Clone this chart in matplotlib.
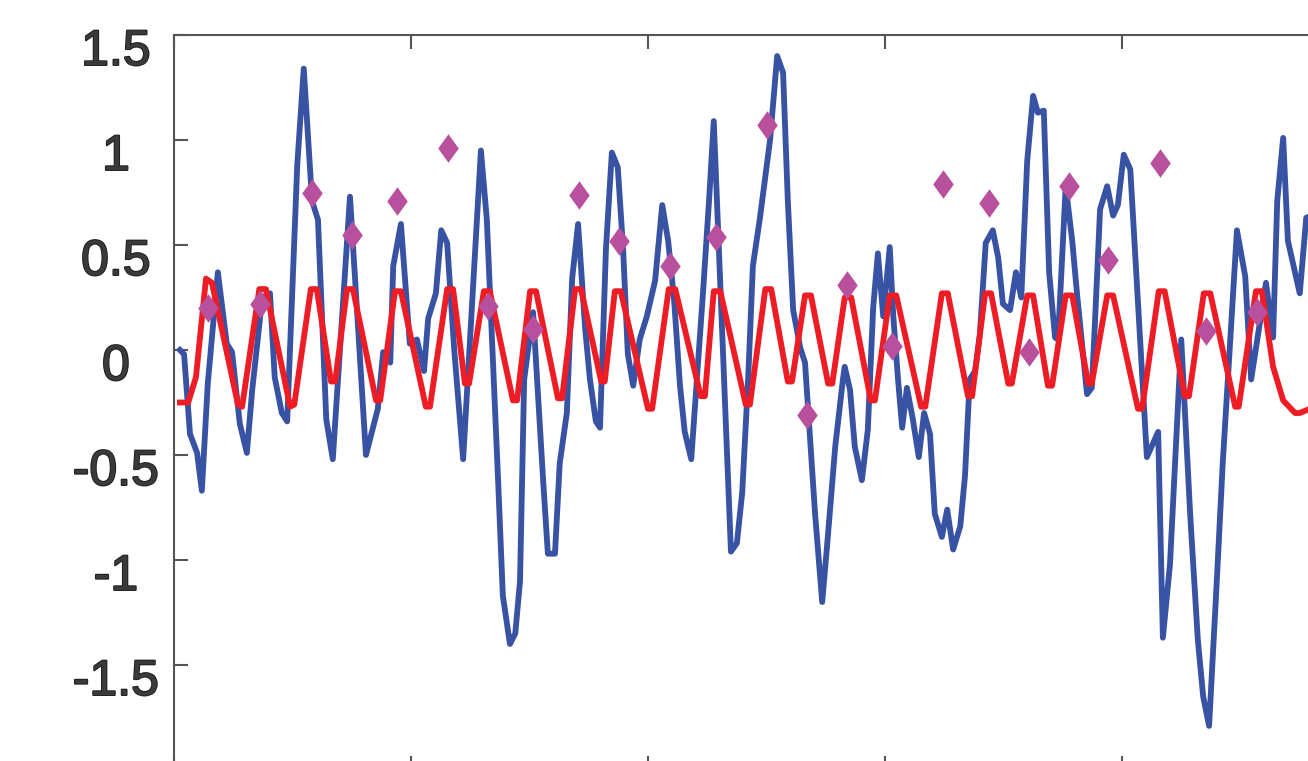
import matplotlib
matplotlib.use('Agg')
import matplotlib.pyplot as plt
import matplotlib.transforms as mtransforms
import matplotlib.patheffects as pe

# blue signal (sample index, value)
blue_x = [1.0, 1.7, 2.7, 3.9, 4.7, 5.7, 7.4, 8.9, 9.8, 11.1, 12.3, 13.2, 14.9, 16.2,
          17.0, 18.2, 19.1, 20.8, 21.9, 23.3, 24.3, 25.7, 26.8, 29.7, 32.4, 34.4,
          35.3, 36.5, 37.0, 38.3, 39.8, 41.0, 42.2, 42.9, 44.2, 45.1, 46.1, 47.3,
          48.8, 51.8, 52.8, 54.7, 55.5, 56.7, 57.6, 58.4, 59.1, 60.6, 62.3, 63.1,
          64.3, 65.1, 66.3, 67.2, 68.2, 69.4, 70.2, 71.2, 71.9, 72.9, 73.9, 74.9,
          75.8, 76.6, 77.5, 78.6, 79.8, 81.2, 82.4, 83.4, 84.4, 85.4, 86.2, 87.3,
          89.3, 90.3, 91.1, 94.0, 95.0, 95.9, 96.9, 97.7, 98.9, 100.6, 101.8, 102.8,
          103.6, 104.5, 105.7, 106.5, 108.2, 109.4, 110.2, 111.6, 112.9, 113.2,
          114.1, 114.9, 116.1, 117.1, 118.0, 118.8, 119.7, 120.8, 121.4, 122.2,
          122.9, 123.7, 124.7, 125.7, 126.6, 127.6, 128.4, 129.6, 130.5, 131.5,
          132.7, 133.5, 134.3, 135.2, 136.0, 137.0, 138.2, 139.1, 139.9, 141.1,
          142.1, 143.0, 144.0, 145.0, 145.8, 146.8, 147.7, 148.7, 149.2, 150.5,
          151.6, 152.4, 154.1, 154.9, 155.4, 156.3, 157.5, 158.5, 159.3, 160.3,
          161.4, 164.2, 166.1, 166.9, 168.1, 170.0, 171.5, 172.8, 173.7, 174.7,
          176.0, 177.0, 179.4, 180.8, 181.8, 184.3, 185.5, 186.2, 187.2, 188.0,
          190.0, 191.1, 193.0]
blue_y = [0.00, -0.02, -0.40, -0.49, -0.67, -0.16, 0.37, 0.03, -0.01, -0.35, -0.49,
          -0.19, 0.25, 0.27, -0.13, -0.30, -0.34, 0.88, 1.34, 0.71, 0.62, -0.33,
          -0.52, 0.73, -0.50, -0.28, -0.01, -0.06, 0.40, 0.60, 0.03, 0.05, -0.10,
          0.15, 0.27, 0.57, 0.51, 0.00, -0.52, 0.95, 0.62, -0.62, -1.17, -1.40,
          -1.35, -1.10, -0.14, 0.18, -0.62, -0.97, -0.97, -0.54, -0.30, 0.34, 0.60,
          0.10, -0.14, -0.34, -0.37, 0.48, 0.94, 0.87, 0.48, -0.02, -0.17, 0.05,
          0.16, 0.33, 0.69, 0.52, 0.24, -0.17, -0.39, -0.52, 0.28, 0.71, 1.09,
          -0.96, -0.92, -0.68, -0.14, 0.40, 0.63, 1.00, 1.40, 1.32, 0.71, 0.19,
          0.01, -0.06, -0.78, -1.20, -0.94, -0.46, -0.14, -0.08, -0.19, -0.46,
          -0.62, -0.38, 0.20, 0.46, 0.16, 0.49, 0.16, -0.14, -0.37, -0.18, -0.33,
          -0.51, -0.30, -0.40, -0.78, -0.89, -0.76, -0.95, -0.84, -0.60, -0.14,
          -0.10, 0.07, 0.51, 0.57, 0.44, 0.22, 0.19, 0.37, 0.25, 0.90, 1.21, 1.13,
          1.14, 0.37, 0.06, 0.05, 0.78, 0.52, 0.27, -0.21, -0.18, 0.11, 0.67, 0.78,
          0.64, 0.69, 0.93, 0.86, -0.51, -0.39, -1.37, -1.02, 0.05, -0.78, -1.38,
          -1.65, -1.79, -1.10, -0.54, 0.57, 0.35, -0.14, 0.32, 0.06, 0.71, 1.01,
          0.52, 0.27, 0.63, 0.65]

# red oscillation (sample index, value)
red_x = [1.0, 2.4, 3.7, 5.4, 6.4, 10.8, 11.5, 14.4, 15.5, 19.6, 20.3, 23.1, 24.1,
         26.5, 27.2, 29.2, 30.2, 34.1, 34.8, 37.3, 38.3, 42.5, 43.2, 46.1, 47.1,
         49.1, 49.8, 52.3, 53.3, 57.2, 57.9, 60.1, 61.1, 64.8, 65.5, 67.7, 68.7,
         72.1, 72.7, 74.4, 75.4, 80.0, 80.7, 83.5, 84.6, 88.9, 89.6, 91.1, 92.2,
         96.5, 97.2, 99.8, 100.8, 103.6, 104.3, 106.5, 107.5, 110.4, 111.1, 113.2,
         114.3, 117.6, 118.3, 120.8, 121.9, 126.1, 126.8, 129.6, 130.6, 134.0,
         134.7, 136.9, 137.9, 140.8, 141.4, 144.0, 145.0, 147.5, 148.2, 150.5,
         151.6, 154.3, 154.9, 157.5, 158.5, 162.7, 163.4, 166.2, 167.2, 170.6,
         171.3, 173.8, 174.9, 179.1, 179.7, 182.6, 183.6, 185.5, 187.2, 189.2,
         190.0, 191.7]
red_y = [-0.25, -0.25, -0.13, 0.34, 0.32, -0.26, -0.27, 0.29, 0.29, -0.27, -0.26,
         0.29, 0.29, -0.15, -0.15, 0.29, 0.29, -0.24, -0.24, 0.28, 0.28, -0.27,
         -0.27, 0.29, 0.29, -0.16, -0.16, 0.28, 0.28, -0.24, -0.24, 0.28, 0.28,
         -0.23, -0.23, 0.29, 0.29, -0.15, -0.15, 0.28, 0.28, -0.28, -0.28, 0.29,
         0.29, -0.22, -0.22, 0.28, 0.28, -0.26, -0.26, 0.29, 0.29, -0.15, -0.15,
         0.26, 0.26, -0.16, -0.16, 0.25, 0.25, -0.24, -0.24, 0.26, 0.26, -0.27,
         -0.27, 0.27, 0.27, -0.22, -0.22, 0.27, 0.27, -0.16, -0.16, 0.26, 0.26,
         -0.17, -0.17, 0.26, 0.26, -0.16, -0.16, 0.26, 0.26, -0.28, -0.28, 0.28,
         0.28, -0.22, -0.22, 0.27, 0.27, -0.27, -0.27, 0.28, 0.28, -0.08, -0.24,
         -0.30, -0.30, -0.28]

# diamond markers
dia_x = [5.7, 14.5, 23.3, 30.0, 37.6, 46.2, 53.0, 60.6, 68.4, 75.1, 83.7, 91.5,
         100.1, 106.8, 113.6, 121.2, 129.8, 137.6, 144.3, 151.1, 157.6, 166.4,
         174.2, 182.8]
dia_y = [0.20, 0.22, 0.75, 0.55, 0.71, 0.96, 0.21, 0.10, 0.74, 0.52, 0.40, 0.54,
         1.07, -0.31, 0.31, 0.02, 0.79, 0.70, -0.01, 0.78, 0.43, 0.89, 0.09, 0.18]

yticks = [-1.5, -1, -0.5, 0, 0.5, 1, 1.5]
ylabels = ['-1.5', '-1', '-0.5', '0', '0.5', '1', '1.5']
xticks = [0, 40, 80, 120, 160, 200]

fig = plt.figure(figsize=(13.08, 7.61), dpi=100)
# axes runs past the right and bottom edges of the picture
ax = fig.add_axes([174 / 1308, -9 / 761, 1185 / 1308, 735 / 761])

ax.plot(blue_x, blue_y, color='#3953a4', lw=4.2, zorder=2)
ax.plot(red_x, red_y, color='#ee1d25', lw=4.2, zorder=3)
diamond = [(0, 1), (0.72, 0), (0, -1), (-0.72, 0), (0, 1)]
ax.plot(dia_x, dia_y, ls='none', marker=diamond, ms=20.5, color='#b8509e',
        mec='none', zorder=4)

ax.set_xlim(0, 200)
ax.set_ylim(-2, 1.5)
ax.set_xticks(xticks)
ax.set_xticklabels([])
ax.set_yticks(yticks)
ax.set_yticklabels(ylabels)

for sp in ax.spines.values():
    sp.set_color('#555555')
    sp.set_linewidth(1.5)
ax.tick_params(direction='in', length=10, width=1.5, color='#555555',
               top=True, right=True)
ax.tick_params(axis='y', pad=41.8, labelsize=36, labelcolor='#3a3a3a')

shift = mtransforms.ScaledTranslation(0, -12 / 100, fig.dpi_scale_trans)
for lab in ax.get_yticklabels():
    lab.set_family('Liberation Sans')
    lab.set_ha('center')
    lab.set_transform(lab.get_transform() + shift)
    lab.set_path_effects([pe.withStroke(linewidth=1.4, foreground='#1e1e1e')])

fig.savefig('out.png', dpi=100)
